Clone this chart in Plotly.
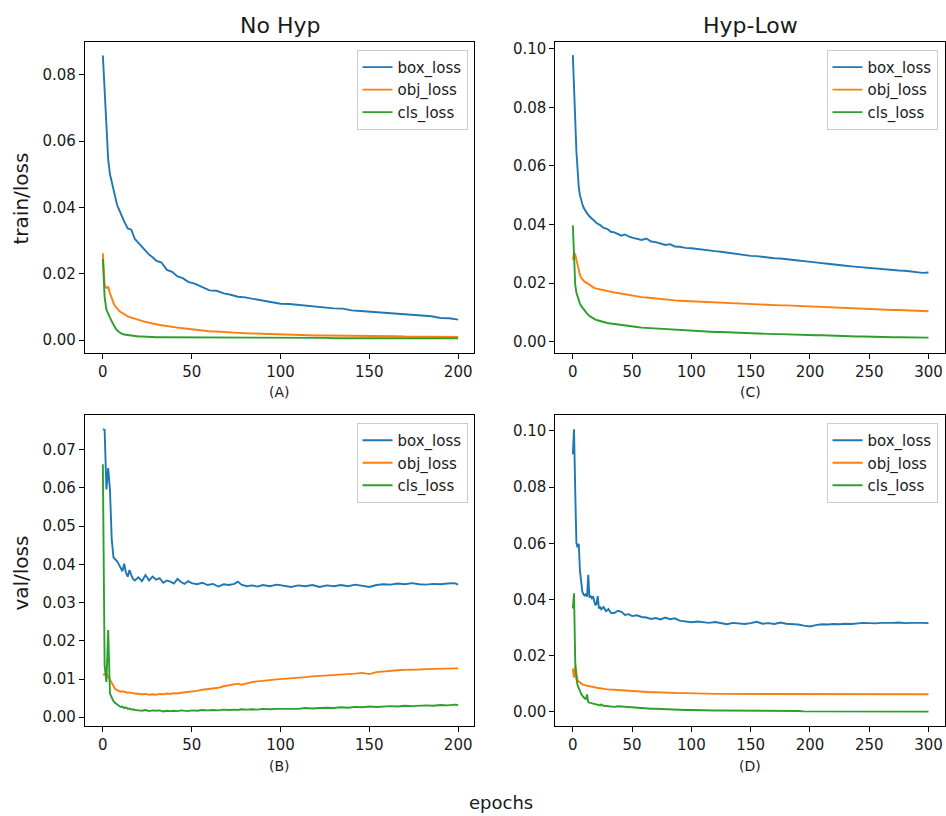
import plotly.graph_objects as go

# ---------------- data ----------------
series_names = ["box_loss", "obj_loss", "cls_loss"]
series_colors = ["#1f77b4", "#ff7f0e", "#2ca02c"]

# (A) No Hyp - train/loss
epochs_a = [0,1,2,3,4,5,6,7,8,9,10,12,14,16,18,20,22,24,26,28,30,33,36,39,42,45,48,52,56,60,
            64,68,72,76,80,85,90,95,100,105,110,115,120,125,130,135,140,145,150,155,160,165,170,175,180,185,190,195,200]
box_a = [0.0858,0.0760,0.0640,0.0545,0.0500,0.0475,0.0450,0.0428,0.0408,0.0395,0.0382,0.0358,0.0337,0.0333,0.0305,
         0.0293,0.0282,0.0268,0.0258,0.0250,0.0240,0.0234,0.0212,0.0206,0.0192,0.0187,0.0176,0.0170,0.0160,0.0150,
         0.0149,0.0141,0.0137,0.0131,0.0129,0.0124,0.0120,0.0115,0.0110,0.0109,0.0106,0.0104,0.0101,0.0098,0.0096,
         0.0095,0.0090,0.0088,0.0086,0.0084,0.0080,0.0080,0.0077,0.0076,0.0072,0.0072,0.0067,0.0066,0.0062]
obj_a = [0.0262,0.0165,0.0158,0.0160,0.0142,0.0125,0.0112,0.0102,0.0095,0.0090,0.0085,0.0078,0.0072,0.0068,0.0064,
         0.0061,0.0058,0.0055,0.0052,0.0050,0.0048,0.0045,0.0042,0.0040,0.0038,0.0036,0.0034,0.0032,0.0029,0.0027,
         0.0026,0.0024,0.0023,0.0022,0.0021,0.0020,0.0018,0.0017,0.0017,0.0016,0.0015,0.0015,0.0014,0.0014,0.0014,
         0.0013,0.0013,0.0013,0.0012,0.0012,0.0012,0.0012,0.0011,0.0011,0.0011,0.0011,0.0011,0.0011,0.0010]
cls_a = [0.0245,0.0130,0.0092,0.0078,0.0068,0.0057,0.0046,0.0037,0.0030,0.0025,0.0021,0.0017,0.0015,0.0013,0.0012,
         0.0011,0.0011,0.0010,0.0010,0.0010,0.0009,0.0009,0.0009,0.0009,0.0009,0.0008,0.0008,0.0008,0.0008,0.0008,
         0.0008,0.0008,0.0007,0.0007,0.0007,0.0007,0.0007,0.0007,0.0007,0.0007,0.0007,0.0007,0.0007,0.0007,0.0006,
         0.0006,0.0006,0.0006,0.0006,0.0006,0.0006,0.0006,0.0006,0.0006,0.0006,0.0006,0.0006,0.0006,0.0006]

# (C) Hyp-Low - train/loss
epochs_c = [0,1,2,3,4,5,6,7,8,9,10,12,14,16,18,20,23,26,29,32,35,38,41,44,47,50,54,58,62,66,70,74,78,82,86,90,95,
            100,105,110,115,120,125,130,135,140,145,150,155,160,165,170,175,180,185,190,195,200,205,210,215,220,
            225,230,235,240,245,250,255,260,265,270,275,280,285,290,295,300]
box_c = [0.0978,0.0890,0.0760,0.0650,0.0570,0.0527,0.0500,0.0482,0.0470,0.0458,0.0450,0.0438,0.0428,0.0420,0.0412,
         0.0405,0.0398,0.0388,0.0385,0.0375,0.0373,0.0368,0.0362,0.0366,0.0359,0.0355,0.0350,0.0347,0.0352,0.0342,
         0.0340,0.0334,0.0330,0.0333,0.0325,0.0324,0.0320,0.0319,0.0316,0.0313,0.0311,0.0309,0.0307,0.0304,0.0301,
         0.0298,0.0296,0.0293,0.0292,0.0289,0.0287,0.0285,0.0284,0.0281,0.0280,0.0277,0.0275,0.0272,0.0270,0.0268,
         0.0266,0.0263,0.0261,0.0259,0.0257,0.0255,0.0254,0.0252,0.0251,0.0249,0.0247,0.0245,0.0243,0.0242,0.0240,
         0.0237,0.0235,0.0236]
obj_c = [0.0280,0.0303,0.0298,0.0280,0.0255,0.0240,0.0228,0.0218,0.0212,0.0207,0.0204,0.0200,0.0195,0.0188,0.0184,
         0.0181,0.0178,0.0175,0.0173,0.0170,0.0168,0.0166,0.0164,0.0162,0.0158,0.0156,0.0154,0.0152,0.0151,0.0149,
         0.0147,0.0145,0.0144,0.0143,0.0141,0.0140,0.0139,0.0137,0.0136,0.0135,0.0134,0.0133,0.0132,0.0131,0.0130,
         0.0129,0.0128,0.0127,0.0127,0.0126,0.0125,0.0125,0.0124,0.0124,0.0123,0.0122,0.0122,0.0121,0.0120,0.0119,
         0.0118,0.0117,0.0117,0.0116,0.0115,0.0114,0.0113,0.0112,0.0111,0.0110,0.0109,0.0108,0.0108,0.0107,0.0106,
         0.0105,0.0105,0.0104]
cls_c = [0.0397,0.0260,0.0195,0.0168,0.0152,0.0140,0.0130,0.0122,0.0116,0.0110,0.0104,0.0096,0.0088,0.0082,0.0078,
         0.0074,0.0070,0.0067,0.0064,0.0062,0.0060,0.0058,0.0056,0.0055,0.0053,0.0051,0.0050,0.0048,0.0047,0.0046,
         0.0044,0.0043,0.0042,0.0041,0.0040,0.0039,0.0038,0.0037,0.0036,0.0035,0.0034,0.0033,0.0033,0.0032,0.0031,
         0.0030,0.0029,0.0029,0.0028,0.0028,0.0027,0.0026,0.0026,0.0025,0.0025,0.0024,0.0024,0.0023,0.0022,0.0022,
         0.0021,0.0021,0.0020,0.0019,0.0019,0.0018,0.0018,0.0017,0.0017,0.0016,0.0016,0.0015,0.0015,0.0015,0.0014,
         0.0014,0.0013,0.0014]

# (B) No Hyp - val/loss
epochs_b = [0,1,2,3,4,5,6,7,8,9,10,11,12,13,14,15,16,17,18,20,22,24,26,28,30,32,34,36,38,40,42,44,46,48,50,
            53,56,59,62,65,68,71,74,76,78,81,84,87,90,94,98,102,106,110,114,118,122,126,130,134,138,142,146,150,
            154,158,162,166,170,174,178,182,186,190,194,198,200]
box_b = [0.0754,0.0752,0.0596,0.0652,0.0595,0.0465,0.0418,0.0414,0.0408,0.0400,0.0390,0.0382,0.0402,0.0378,0.0368,
         0.0385,0.0372,0.0362,0.0358,0.0366,0.0356,0.0372,0.0358,0.0368,0.0360,0.0364,0.0352,0.0358,0.0355,0.0350,
         0.0362,0.0354,0.0349,0.0356,0.0351,0.0348,0.0352,0.0346,0.0349,0.0342,0.0348,0.0346,0.0349,0.0355,0.0347,
         0.0343,0.0345,0.0342,0.0346,0.0343,0.0347,0.0344,0.0341,0.0345,0.0343,0.0346,0.0341,0.0345,0.0343,0.0346,
         0.0343,0.0347,0.0344,0.0341,0.0346,0.0348,0.0347,0.0350,0.0348,0.0351,0.0348,0.0347,0.0349,0.0348,0.0350,
         0.0351,0.0347]
obj_b = [0.0112,0.0112,0.0114,0.0106,0.0096,0.0088,0.0080,0.0074,0.0071,0.0069,0.0067,0.0068,0.0066,0.0066,0.0064,
         0.0065,0.0063,0.0063,0.0062,0.0061,0.0060,0.0061,0.0059,0.0060,0.0059,0.0061,0.0060,0.0062,0.0061,0.0063,
         0.0062,0.0064,0.0065,0.0066,0.0067,0.0069,0.0072,0.0074,0.0076,0.0077,0.0081,0.0083,0.0086,0.0088,0.0085,
         0.0089,0.0092,0.0094,0.0096,0.0097,0.0099,0.0100,0.0102,0.0104,0.0105,0.0107,0.0108,0.0110,0.0111,0.0112,
         0.0113,0.0114,0.0116,0.0113,0.0118,0.0120,0.0121,0.0123,0.0124,0.0124,0.0125,0.0126,0.0127,0.0127,0.0128,
         0.0128,0.0128]
cls_b = [0.0662,0.0135,0.0092,0.0228,0.0062,0.0050,0.0042,0.0037,0.0033,0.0030,0.0027,0.0028,0.0024,0.0026,0.0022,
         0.0023,0.0020,0.0021,0.0019,0.0018,0.0017,0.0019,0.0016,0.0018,0.0017,0.0018,0.0015,0.0017,0.0016,0.0017,
         0.0016,0.0018,0.0017,0.0016,0.0018,0.0017,0.0019,0.0018,0.0019,0.0018,0.0020,0.0019,0.0020,0.0019,0.0021,
         0.0020,0.0021,0.0020,0.0022,0.0021,0.0022,0.0022,0.0023,0.0022,0.0024,0.0023,0.0024,0.0025,0.0024,0.0026,
         0.0025,0.0027,0.0026,0.0028,0.0027,0.0028,0.0029,0.0028,0.0030,0.0029,0.0030,0.0031,0.0030,0.0032,0.0031,
         0.0033,0.0032]

# (D) Hyp-Low - val/loss
epochs_d = [0,1,2,3,4,5,6,7,8,9,10,11,12,13,14,15,16,17,18,19,20,21,22,23,24,26,28,30,32,35,38,41,44,47,50,
            54,58,62,66,70,74,78,82,86,90,95,100,105,110,115,120,125,130,135,140,145,150,155,160,165,170,175,
            180,185,190,195,200,205,210,215,220,225,230,235,240,245,250,255,260,265,270,275,280,285,290,295,300]
box_d = [0.0917,0.1006,0.0790,0.0603,0.0585,0.0598,0.0503,0.0452,0.0428,0.0418,0.0414,0.0420,0.0410,0.0488,0.0410,
         0.0412,0.0405,0.0412,0.0392,0.0380,0.0385,0.0412,0.0368,0.0375,0.0365,0.0373,0.0358,0.0366,0.0353,0.0352,
         0.0360,0.0356,0.0345,0.0348,0.0341,0.0344,0.0338,0.0336,0.0331,0.0334,0.0329,0.0336,0.0330,0.0333,0.0325,
         0.0321,0.0319,0.0322,0.0319,0.0317,0.0320,0.0316,0.0312,0.0317,0.0314,0.0313,0.0316,0.0321,0.0314,0.0316,
         0.0313,0.0318,0.0314,0.0313,0.0311,0.0307,0.0304,0.0309,0.0312,0.0311,0.0313,0.0312,0.0314,0.0313,0.0315,
         0.0317,0.0316,0.0315,0.0317,0.0316,0.0317,0.0318,0.0316,0.0317,0.0318,0.0317,0.0316]
obj_d = [0.0154,0.0122,0.0165,0.0138,0.0112,0.0108,0.0104,0.0101,0.0098,0.0096,0.0095,0.0093,0.0092,0.0091,0.0090,
         0.0089,0.0088,0.0088,0.0087,0.0086,0.0086,0.0085,0.0084,0.0084,0.0083,0.0082,0.0081,0.0080,0.0080,0.0079,
         0.0078,0.0077,0.0076,0.0075,0.0073,0.0073,0.0072,0.0071,0.0070,0.0070,0.0069,0.0069,0.0068,0.0068,0.0067,
         0.0067,0.0066,0.0066,0.0065,0.0065,0.0064,0.0064,0.0064,0.0063,0.0063,0.0063,0.0063,0.0063,0.0063,0.0062,
         0.0062,0.0062,0.0062,0.0062,0.0062,0.0062,0.0062,0.0062,0.0062,0.0062,0.0062,0.0062,0.0062,0.0062,0.0062,
         0.0062,0.0063,0.0063,0.0063,0.0063,0.0063,0.0063,0.0063,0.0063,0.0063,0.0063,0.0063]
cls_d = [0.0368,0.0422,0.0180,0.0118,0.0095,0.0082,0.0072,0.0064,0.0058,0.0052,0.0048,0.0046,0.0062,0.0034,0.0033,
         0.0031,0.0030,0.0029,0.0027,0.0026,0.0025,0.0024,0.0025,0.0023,0.0027,0.0022,0.0021,0.0020,0.0019,0.0018,
         0.0020,0.0019,0.0016,0.0015,0.0014,0.0013,0.0013,0.0012,0.0011,0.0011,0.0010,0.0010,0.0009,0.0009,0.0008,
         0.0007,0.0007,0.0006,0.0006,0.0006,0.0005,0.0005,0.0005,0.0005,0.0004,0.0004,0.0004,0.0004,0.0004,0.0003,
         0.0003,0.0003,0.0003,0.0003,0.0003,0.0002,0.0002,0.0002,0.0002,0.0002,0.0002,0.0002,0.0002,0.0002,0.0002,
         0.0001,0.0001,0.0001,0.0001,0.0001,0.0001,0.0001,0.0001,0.0001,0.0001,0.0001,0.0001]

col_titles = ["No Hyp", "Hyp-Low"]
row_titles = ["train/loss", "val/loss"]
panel_labels = ["(A)", "(C)", "(B)", "(D)"]
x_label = "epochs"
xticks_200 = [0, 50, 100, 150, 200]
xticks_300 = [0, 50, 100, 150, 200, 250, 300]
yticks_a = [0.00, 0.02, 0.04, 0.06, 0.08]
yticks_c = [0.00, 0.02, 0.04, 0.06, 0.08, 0.10]
yticks_b = [0.00, 0.01, 0.02, 0.03, 0.04, 0.05, 0.06, 0.07]
yticks_d = [0.00, 0.02, 0.04, 0.06, 0.08, 0.10]

# ---------------- figure ----------------
W, H = 946, 816
FONT = "DejaVu Sans"
TXT = "#1a1a1a"

def px_x(p):
    return p / W

def px_y(p):
    return 1 - p / H

panels = [
    ("", epochs_a, [box_a, obj_a, cls_a], (85, 475), (40, 352), [-10.1, 209.2], [-0.0039, 0.0899], xticks_200, yticks_a, "legend"),
    ("2", epochs_c, [box_c, obj_c, cls_c], (556, 945.5), (40, 352), [-14.7, 313.5], [-0.0039, 0.1023], xticks_300, yticks_c, "legend2"),
    ("3", epochs_b, [box_b, obj_b, cls_b], (85, 475), (414, 726), [-10.1, 209.2], [-0.00235, 0.0791], xticks_200, yticks_b, "legend3"),
    ("4", epochs_d, [box_d, obj_d, cls_d], (556, 945.5), (414, 726), [-14.7, 313.5], [-0.0051, 0.1057], xticks_300, yticks_d, "legend4"),
]

fig = go.Figure()
layout = dict(
    width=W, height=H,
    margin=dict(l=0, r=0, t=0, b=0),
    paper_bgcolor="white", plot_bgcolor="white",
    font=dict(family=FONT, size=15, color=TXT),
    showlegend=True,
)

for suf, ep, vals, xd, yd, xr, yr, xt, yt, lg in panels:
    for name, color, v in zip(series_names, series_colors, vals):
        fig.add_trace(go.Scatter(
            x=ep, y=v, mode="lines", name=name,
            line=dict(color=color, width=1.9),
            xaxis="x" + suf, yaxis="y" + suf, legend=lg,
        ))
    common = dict(showline=True, mirror=True, linecolor="black", linewidth=1,
                  ticks="outside", ticklen=5, tickwidth=1, tickcolor="black",
                  showgrid=False, zeroline=False,
                  tickfont=dict(family=FONT, size=15, color=TXT))
    layout["xaxis" + suf] = dict(domain=[px_x(xd[0]), px_x(xd[1])], range=xr,
                                 tickvals=xt, anchor="y" + suf, **common)
    layout["yaxis" + suf] = dict(domain=[px_y(yd[1]), px_y(yd[0])], range=yr,
                                 tickvals=yt, tickformat=".2f", anchor="x" + suf, **common)
    layout[lg] = dict(
        x=px_x(xd[1] - 7), y=px_y(yd[0] + 8), xanchor="right", yanchor="top",
        xref="paper", yref="paper",
        bgcolor="rgba(255,255,255,0.8)", bordercolor="#cccccc", borderwidth=1,
        font=dict(family=FONT, size=15, color=TXT),
        tracegroupgap=0,
    )

annotations = []
for title, cx in zip(col_titles, [280, 751]):
    annotations.append(dict(text=title, x=px_x(cx), y=px_y(24), xref="paper", yref="paper",
                            showarrow=False, xanchor="center", yanchor="middle",
                            font=dict(family=FONT, size=22, color=TXT)))
for title, cy in zip(row_titles, [197, 572]):
    annotations.append(dict(text=title, x=px_x(21), y=px_y(cy), xref="paper", yref="paper",
                            showarrow=False, xanchor="center", yanchor="middle", textangle=-90,
                            font=dict(family=FONT, size=20, color=TXT)))
for lab, (cx, cy) in zip(panel_labels, [(280, 391), (751, 391), (280, 766), (751, 766)]):
    annotations.append(dict(text=lab, x=px_x(cx), y=px_y(cy), xref="paper", yref="paper",
                            showarrow=False, xanchor="center", yanchor="middle",
                            font=dict(family=FONT, size=14, color=TXT)))
annotations.append(dict(text=x_label, x=px_x(502), y=px_y(802), xref="paper", yref="paper",
                        showarrow=False, xanchor="center", yanchor="middle",
                        font=dict(family=FONT, size=18, color=TXT)))
layout["annotations"] = annotations

fig.update_layout(**layout)
fig.write_html(
    "out.html",
    config={"displayModeBar": False},
    post_script="document.body.style.margin='0';document.body.style.padding='0';"
                "document.body.style.overflow='hidden';document.documentElement.style.overflow='hidden';",
)
